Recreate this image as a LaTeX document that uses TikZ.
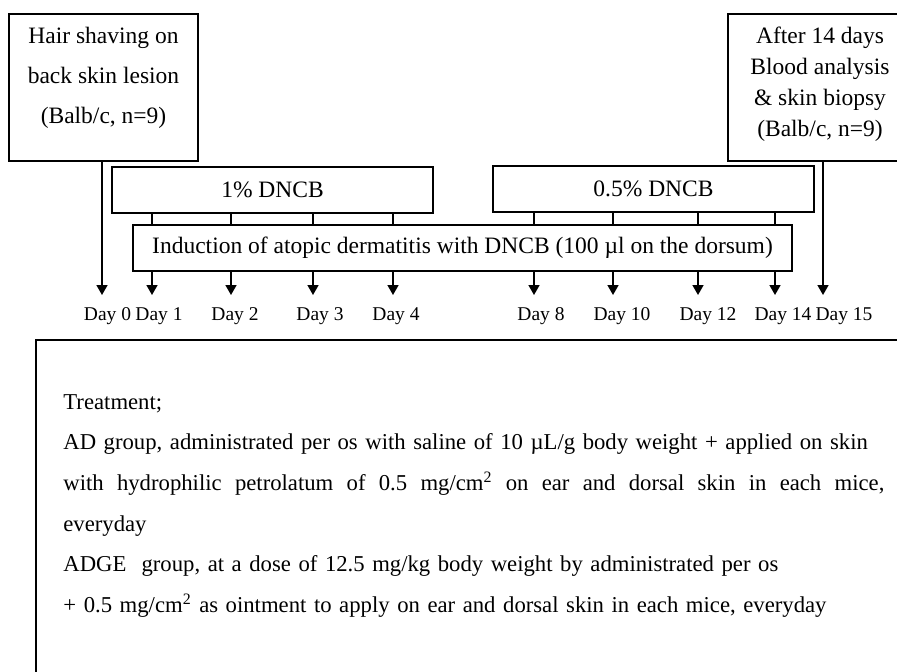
\documentclass[tikz,border=0pt]{standalone}
\usepackage{fontspec}
\setmainfont{Liberation Serif}
\usetikzlibrary{arrows.meta,positioning}

\begin{document}
\begin{tikzpicture}[x=0.5pt, y=-0.5pt,
    box/.style={draw, line width=0.8pt, inner sep=0pt},
    txt/.style={font=\fontsize{11.75}{20}\selectfont, inner sep=0pt},
    treattxt/.style={font=\fontsize{11.35}{20.3}\selectfont, inner sep=0pt},
    day/.style={font=\fontsize{9.75}{11}\selectfont, inner sep=0pt},
    tick/.style={line width=0.8pt},
    arr/.style={line width=0.8pt, -{Triangle[length=5pt, width=5.5pt]}}]
    \useasboundingbox (0,0) rectangle (897,671);

    % Start and end boxes
    \node[box, minimum width=94.5pt, minimum height=73.5pt] (hair) at (103.5,87.5) {};
    \node[txt, align=center] (hairtxt) at (103.5,78) {Hair shaving on\\back skin lesion\\(Balb/c, n=9)};

    \node[box, minimum width=92pt, minimum height=73.5pt] (after) at (820,87.5) {};
    \node[txt, align=center, font=\fontsize{11.75}{15.5}\selectfont] (aftertxt) at (820,84) {After 14 days\\Blood analysis\\\& skin biopsy\\(Balb/c, n=9)};

    % DNCB boxes
    \node[box, txt, minimum width=160.5pt, minimum height=23pt] (dnca) at (272.5,190) {1\% DNCB};
    \node[box, txt, minimum width=160.5pt, minimum height=23pt] (dncb) at (653.5,189) {0.5\% DNCB};
    \node[box, txt, minimum width=329.5pt, minimum height=23pt] (induct) at (462.5,248) {Induction of atopic dermatitis with DNCB (100 µl on the dorsum)};

    % Ticks and arrows to the days
    \foreach \x in {152,231,313,393} {
        \draw[tick] (dnca.south -| \x,0) -- (induct.north -| \x,0);
        \draw[arr] (induct.south -| \x,0) -- (\x,295);
    }
    \foreach \x in {534,613,698,775} {
        \draw[tick] (dncb.south -| \x,0) -- (induct.north -| \x,0);
        \draw[arr] (induct.south -| \x,0) -- (\x,295);
    }
    \draw[arr] (hair.south -| 102,0) -- (102,295);
    \draw[arr] (after.south -| 823,0) -- (823,295);

    % Day labels
    \foreach \x/\d in {107.5/0, 159/1, 235/2, 320/3, 396/4, 541/8, 622/10, 708/12, 783/14, 844/15}
        \node[day] (day\d) at (\x,316) {Day \d};

    % Treatment box
    \node[box, minimum width=438.5pt, minimum height=175.5pt, anchor=north west] (treat) at (35,339) {};
    \node[treattxt, anchor=north west, text width=410.5pt, align=left] (treattxt) at (63,394) {Treatment;\\
        AD group, administrated per os with saline of 10 µL/g body weight + applied on skin\\
        \makebox[410.5pt][l]{with\hfill hydrophilic\hfill petrolatum\hfill of\hfill 0.5\hfill mg/cm\textsuperscript{2}\hfill on\hfill ear\hfill and\hfill dorsal\hfill skin\hfill in\hfill each\hfill mice,}\\
        everyday\\
        ADGE~ group, at a dose of 12.5 mg/kg body weight by administrated per os\\
        + 0.5 mg/cm\textsuperscript{2} as ointment to apply on ear and dorsal skin in each mice, everyday};
\end{tikzpicture}
\end{document}
